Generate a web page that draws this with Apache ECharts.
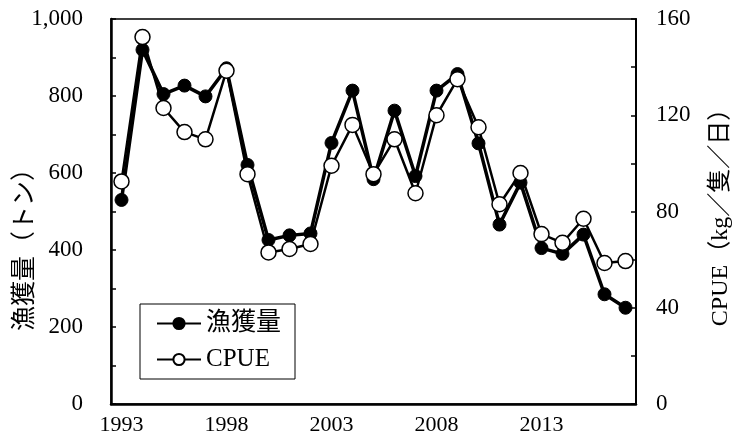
<!DOCTYPE html>
<html>
<head>
<meta charset="utf-8">
<script src="https://cdn.jsdelivr.net/npm/echarts@6/dist/echarts.min.js"></script>
<style>
html, body { margin: 0; padding: 0; background: #fff; }
#chart { width: 734px; height: 441px; }
</style>
</head>
<body>
<div id="chart"></div>
<script>
// 年 / 漁獲量(トン) / CPUE(kg/隻/日)
var years = ['1993', '1994', '1995', '1996', '1997', '1998', '1999', '2000', '2001', '2002',
	'2003', '2004', '2005', '2006', '2007', '2008', '2009', '2010', '2011', '2012',
	'2013', '2014', '2015', '2016', '2017'];
var catchTon = [530, 920, 805, 827, 799, 872, 621, 426, 438, 443,
	678, 814, 584, 762, 592, 814, 857, 677, 466, 575,
	405, 390, 440, 285, 250];
var cpue = [92.5, 152.5, 123, 113, 110, 138.5, 95.5, 63, 64.4, 66.5,
	99, 116, 95.5, 110, 87.6, 120, 135, 115, 83, 96,
	70.6, 67, 77, 58.6, 59.4];

var FONT = "'Liberation Serif', 'Noto Sans CJK JP', serif";

var chart = echarts.init(document.getElementById('chart'));
var option = {
	backgroundColor: '#fff',
	animation: false,
	grid: {
		left: 111, right: 98, top: 19, bottom: 37,
		outerBoundsMode: 'none',
		containLabel: false,
		show: true, borderColor: '#000', borderWidth: 1.5
	},
	legend: {
		orient: 'vertical',
		left: 140, top: 304,
		padding: [7, 14, 7, 16],
		itemGap: 11,
		itemWidth: 44, itemHeight: 14,
		borderColor: '#000', borderWidth: 1,
		backgroundColor: '#fff',
		textStyle: { fontFamily: FONT, fontSize: 25, color: '#000' },
		data: ['漁獲量', 'CPUE']
	},
	xAxis: {
		type: 'category',
		data: years,
		boundaryGap: true,
		axisLine: { lineStyle: { color: '#000', width: 2.5 } },
		axisTick: { inside: true, length: 5, interval: 0, lineStyle: { color: '#000', width: 1.5 } },
		axisLabel: { interval: 4, margin: 10, color: '#000', fontFamily: FONT, fontSize: 22 },
		splitLine: { show: false }
	},
	yAxis: [{
		type: 'value',
		min: 0, max: 1000, interval: 100,
		name: '漁獲量（トン）',
		nameLocation: 'middle',
		nameRotate: 90,
		nameGap: 73,
		nameMoveOverlap: false,
		nameTextStyle: { fontFamily: FONT, fontSize: 25, color: '#000', padding: [0, 64, 0, 0] },
		axisLine: { show: true, lineStyle: { color: '#000', width: 2.5 } },
		axisTick: { show: true, inside: true, length: 5, lineStyle: { color: '#000', width: 1.5 } },
		axisLabel: {
			margin: 28, color: '#000', fontFamily: FONT, fontSize: 23,
			formatter: function(v) {
				return v % 200 ? '' : v.toLocaleString('en-US');
			}
		},
		splitLine: { show: false }
	}, {
		type: 'value',
		position: 'right',
		min: 0, max: 160, interval: 20,
		name: 'CPUE（kg／隻／日）',
		nameLocation: 'middle',
		nameRotate: 90,
		nameGap: 73,
		nameMoveOverlap: false,
		nameTextStyle: { fontFamily: FONT, fontSize: 24, color: '#000' },
		axisLine: { show: true, lineStyle: { color: '#000', width: 2 } },
		axisTick: { show: true, inside: true, length: 5, lineStyle: { color: '#000', width: 1.5 } },
		axisLabel: {
			margin: 20, color: '#000', fontFamily: FONT, fontSize: 23,
			formatter: function(v) {
				return v % 40 ? '' : String(v);
			}
		},
		splitLine: { show: false }
	}],
	series: [{
		name: '漁獲量',
		type: 'line',
		yAxisIndex: 0,
		data: catchTon,
		symbol: 'circle',
		symbolSize: 13,
		showAllSymbol: true,
		lineStyle: { color: '#000', width: 3.5 },
		itemStyle: { color: '#000', borderColor: '#000', borderWidth: 1 }
	}, {
		name: 'CPUE',
		type: 'line',
		yAxisIndex: 1,
		data: cpue,
		symbol: 'circle',
		symbolSize: 15,
		showAllSymbol: true,
		lineStyle: { color: '#000', width: 2.5 },
		itemStyle: { color: '#fff', borderColor: '#000', borderWidth: 1.5 }
	}]
};
chart.setOption(option);
</script>
</body>
</html>
